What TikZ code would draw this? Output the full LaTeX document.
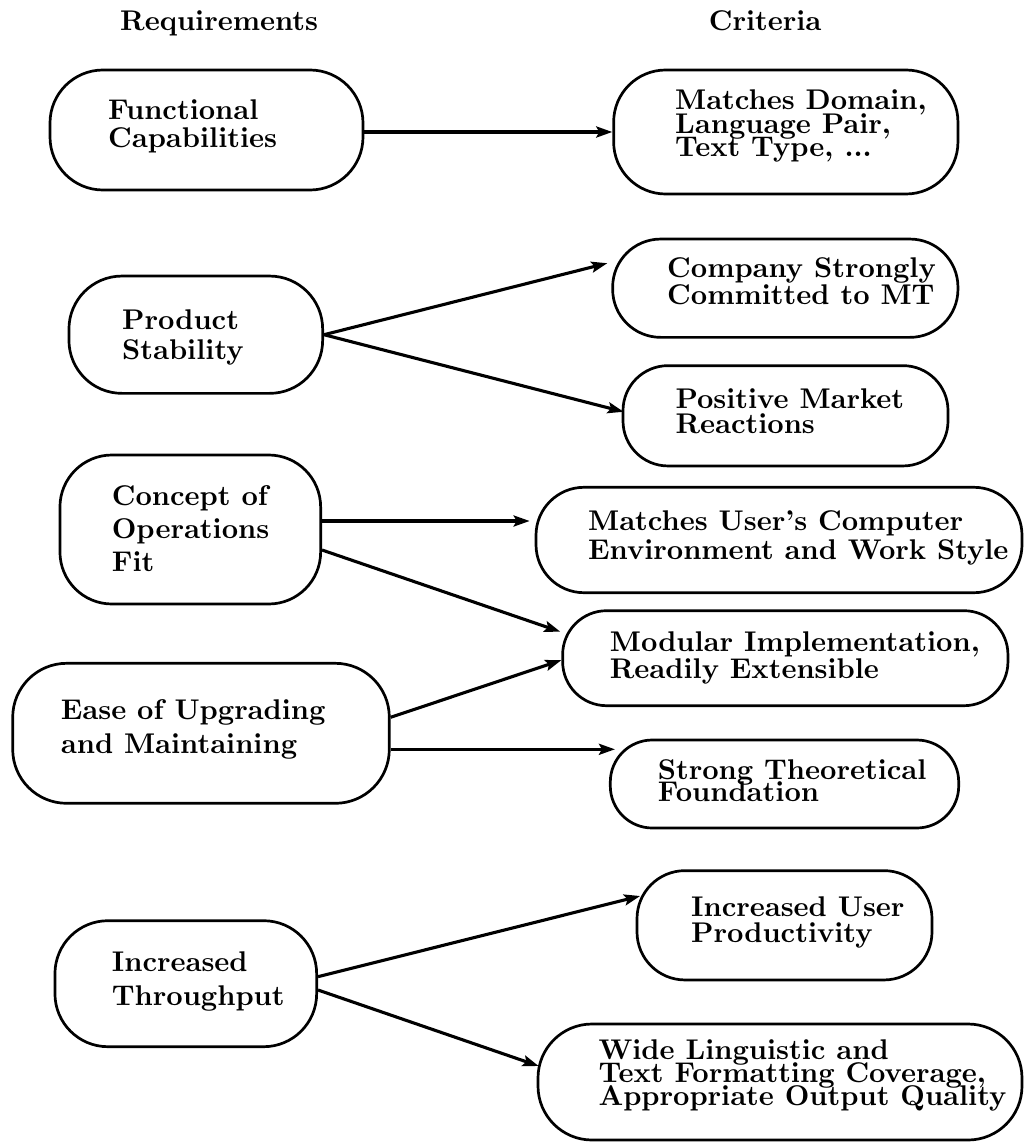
\documentclass[tikz,border=0pt]{standalone}
\usetikzlibrary{arrows.meta}
\font\diagbx=cmbx10 at 28.5pt
\newcommand\txtlines[2]{\vtop{\baselineskip=#1pt\lineskiplimit=-1000pt\lineskip=0pt\relax #2}}
\tikzset{
  box/.style={draw, rectangle, line width=2.7pt, inner sep=0pt},
  txt/.style={anchor=base west, inner sep=0pt, font=\diagbx},
  arr/.style={line width=3.1pt, -{Stealth[length=16pt,width=11pt,inset=3pt]}}
}
\begin{document}
\begin{tikzpicture}[x=1pt,y=-1pt]
\useasboundingbox (0,0) rectangle (1024,1142);

% headers
\node[txt] (hreq) at (120,30.7) {Requirements};
\node[txt] (hcrit) at (708.7,30.7) {Criteria};

% left boxes
\node[box, minimum width=313pt, minimum height=120pt, rounded corners=53pt] (F) at (206.5,130) {};
\node[txt] (Ft) at (108,119.3) {\txtlines{28.4}{\hbox{Functional}\hbox{Capabilities}}};

\node[box, minimum width=253.7pt, minimum height=117.3pt, rounded corners=53pt] (P) at (195.8,334.7) {};
\node[txt] (Pt) at (122,329) {\txtlines{30.3}{\hbox{Product}\hbox{Stability}}};

\node[box, minimum width=260.7pt, minimum height=149pt, rounded corners=52pt] (CO) at (190.3,529.5) {};
\node[txt] (COt) at (111.7,505.5) {\txtlines{33}{\hbox{Concept of}\hbox{Operations}\hbox{Fit}}};

\node[box, minimum width=376.6pt, minimum height=140pt, rounded corners=54pt] (E) at (201,733.3) {};
\node[txt] (Et) at (60.7,719.3) {\txtlines{34}{\hbox{Ease of Upgrading}\hbox{and Maintaining}}};

\node[box, minimum width=261.7pt, minimum height=126pt, rounded corners=53pt] (IT) at (185.8,983.7) {};
\node[txt] (ITt) at (111.7,971.7) {\txtlines{34}{\hbox{Increased}\hbox{Throughput}}};

% right boxes
\node[box, minimum width=344.3pt, minimum height=124pt, rounded corners=52pt] (M1) at (785.8,132) {};
\node[txt] (M1t) at (675,109.7) {\txtlines{23.5}{\hbox{Matches Domain,}\hbox{Language Pair,}\hbox{Text Type, ...}}};

\node[box, minimum width=345.3pt, minimum height=98.3pt, rounded corners=48pt] (C1) at (785.3,288.2) {};
\node[txt] (C1t) at (667,277.3) {\txtlines{26.7}{\hbox{Company Strongly}\hbox{Committed to MT}}};

\node[box, minimum width=325pt, minimum height=100.3pt, rounded corners=45pt] (PM) at (785.5,415.8) {};
\node[txt] (PMt) at (675.3,408.3) {\txtlines{25}{\hbox{Positive Market}\hbox{Reactions}}};

\node[box, minimum width=486pt, minimum height=105.4pt, rounded corners=48pt] (MU) at (779,540) {};
\node[txt] (MUt) at (588,530.7) {\txtlines{28.7}{\hbox{Matches User's Computer}\hbox{Environment and Work Style}}};

\node[box, minimum width=445.3pt, minimum height=95pt, rounded corners=44pt] (MI) at (785.3,658.2) {};
\node[txt] (MIt) at (609.7,651.7) {\txtlines{26.7}{\hbox{Modular Implementation,}\hbox{Readily Extensible}}};

\node[box, minimum width=348.4pt, minimum height=88pt, rounded corners=42pt] (ST) at (784.5,784) {};
\node[txt] (STt) at (657.7,779.3) {\txtlines{22.4}{\hbox{Strong Theoretical}\hbox{Foundation}}};

\node[box, minimum width=295pt, minimum height=109.3pt, rounded corners=48pt] (IU) at (784.5,925.3) {};
\node[txt] (IUt) at (691,916) {\txtlines{26.7}{\hbox{Increased User}\hbox{Productivity}}};

\node[box, minimum width=484pt, minimum height=116pt, rounded corners=54pt] (W) at (780,1082) {};
\node[txt] (Wt) at (598.3,1059) {\txtlines{23.4}{\hbox{Wide Linguistic and}\hbox{Text Formatting Coverage,}\hbox{Appropriate Output Quality}}};

% connector end points
\coordinate (muin) at ([shift={(-5,-19)}]MU.west);
\coordinate (stin) at ([shift={(6,-34.7)}]ST.west);

% connectors
\draw[arr] (F.east |- M1.west) -- (M1.west);
\draw[arr] (P.east) -- ([shift={(-4,-25)}]C1.west);
\draw[arr] (P.east) -- ([shift={(2,-4)}]PM.west);
\draw[arr] (CO.east |- muin) -- (muin);
\draw[arr] ([yshift=-20.5pt]CO.east) -- ([shift={(-1,-26.5)}]MI.west);
\draw[arr] ([yshift=16pt]E.east) -- ([shift={(0,2)}]MI.west);
\draw[arr] (E.east |- stin) -- (stin);
\draw[arr] ([yshift=7pt]IT.east) -- ([shift={(4.5,-29.3)}]IU.west);
\draw[arr] ([yshift=-6.3pt]IT.east) -- ([shift={(2,-16)}]W.west);
\end{tikzpicture}
\end{document}
